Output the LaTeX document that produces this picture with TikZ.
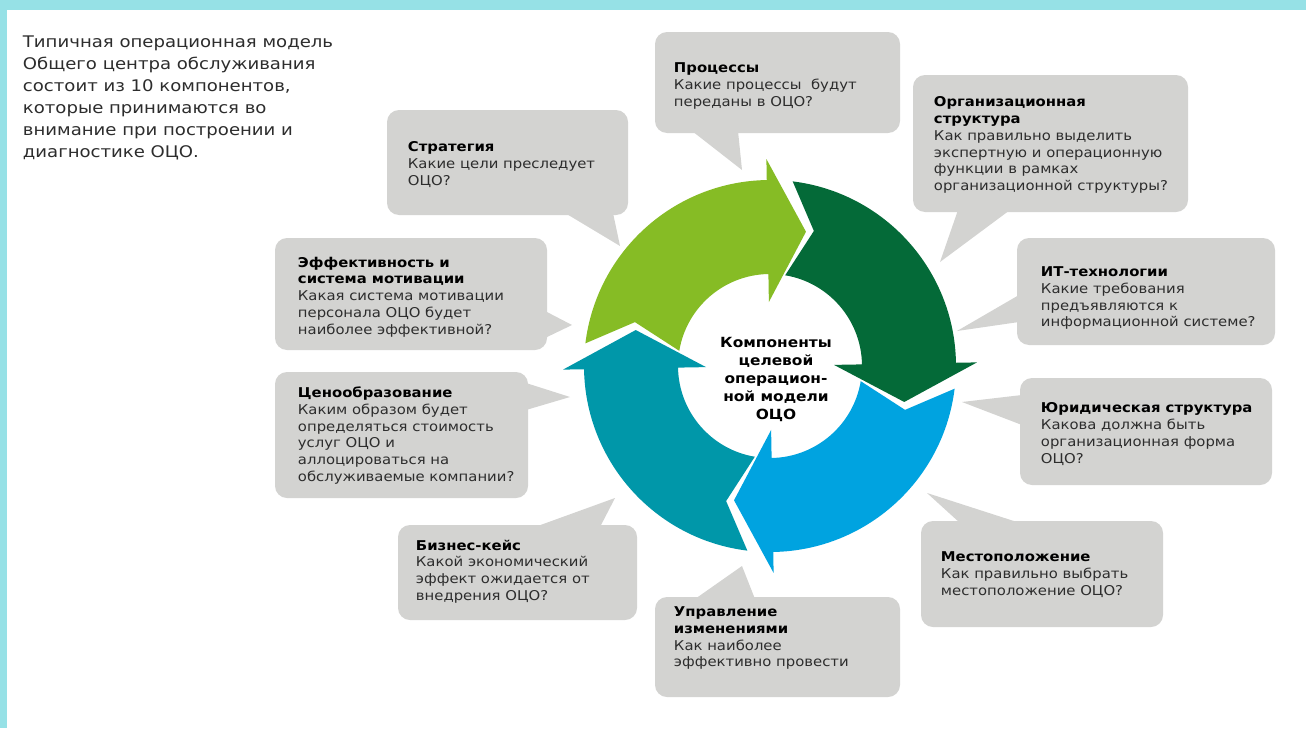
\documentclass[tikz,border=0pt]{standalone}
\usepackage{fontspec}
\setmainfont{DejaVu Sans}[FakeStretch=1.1]
\newfontfamily\introfont{DejaVu Sans}[FakeStretch=1.13]
\usepackage{tikz}

\definecolor{framecyan}{RGB}{150,225,230}
\definecolor{bubblegray}{RGB}{211,211,209}
\definecolor{txtgray}{RGB}{45,45,45}
\definecolor{lgreen}{RGB}{134,188,37}
\definecolor{dgreen}{RGB}{4,106,56}
\definecolor{lblue}{RGB}{0,163,224}
\definecolor{cteal}{RGB}{0,151,169}
\newcommand{\headfont}{\bfseries\color{black}}

\begin{document}
\begin{tikzpicture}[x=1pt,y=1pt,
  bubble/.style={fill=bubblegray,rounded corners=12pt},
  btext/.style={anchor=north west,inner sep=0.75pt,align=left,text=txtgray,
    font=\fontsize{13.5}{16.7}\selectfont}]
\useasboundingbox (0,0) rectangle (1306,-728);
%Frame
\fill[framecyan] (0,0) rectangle (1306,-728);
\fill[white] (7,-10) rectangle (1306,-728);
%Bubbles
\fill[bubble] (387,-110) rectangle (628,-215);
\fill[bubblegray] (565,-213) -- (620,-246) -- (613,-213) -- cycle;
\fill[bubble] (655,-32) rectangle (900,-133);
\fill[bubblegray] (692,-131) -- (742,-170) -- (738,-131) -- cycle;
\fill[bubble] (913,-75) rectangle (1188,-212);
\fill[bubblegray] (958,-210) -- (940,-262) -- (1010,-210) -- cycle;
\fill[bubble] (275,-238) rectangle (547,-350);
\fill[bubblegray] (545,-311) -- (572,-325) -- (545,-338) -- cycle;
\fill[bubble] (1017,-238) rectangle (1275,-345);
\fill[bubblegray] (1019,-295) -- (957,-331) -- (1019,-322) -- cycle;
\fill[bubble] (275,-372) rectangle (528,-498);
\fill[bubblegray] (526,-383) -- (570,-397) -- (526,-410) -- cycle;
\fill[bubble] (1020,-378) rectangle (1272,-485);
\fill[bubblegray] (1022,-395) -- (962,-402) -- (1022,-425) -- cycle;
\fill[bubble] (398,-525) rectangle (637,-620);
\fill[bubblegray] (535,-527) -- (615,-498) -- (600,-527) -- cycle;
\fill[bubble] (655,-597) rectangle (900,-697);
\fill[bubblegray] (695,-599) -- (742,-566) -- (755,-599) -- cycle;
\fill[bubble] (921,-521) rectangle (1163,-627);
\fill[bubblegray] (960,-523) -- (927,-493) -- (1020,-523) -- cycle;
%Cycle arrows
\begin{scope}[shift={(770,-366)}]
\fill[lgreen] (173:186) arc[start angle=173,end angle=91,radius=186] -- (91:207) -- (75:139) -- (91:64) -- (91:92) arc[start angle=91,end angle=170.5,radius=92] -- (162:142) -- cycle;
\fill[dgreen] (83:186) arc[start angle=83,end angle=1,radius=186] -- (1:207) -- (-15:139) -- (1:64) -- (1:92) arc[start angle=1,end angle=80.5,radius=92] -- (72:142) -- cycle;
\fill[lblue] (-7:186) arc[start angle=-7,end angle=-89,radius=186] -- (-89:207) -- (-105:139) -- (-89:64) -- (-89:92) arc[start angle=-89,end angle=-9.5,radius=92] -- (-18:142) -- cycle;
\fill[cteal] (263:186) arc[start angle=263,end angle=181,radius=186] -- (181:207) -- (165:139) -- (181:64) -- (181:92) arc[start angle=181,end angle=260.5,radius=92] -- (252:142) -- cycle;
\end{scope}
%Text
\draw (22,-35) node (intro) [anchor=north west][inner sep=0.75pt][align=left][text=txtgray][font=\introfont\fontsize{16}{22}\selectfont] {Типичная операционная модель\\Общего центра обслуживания\\состоит из 10 компонентов,\\которые принимаются во\\внимание при построении и\\диагностике ОЦО.};
\draw (776,-379) node (core) [inner sep=0.75pt][align=center][font=\fontsize{14}{18}\selectfont\bfseries] {Компоненты\\целевой\\операцион-\\ной модели\\ОЦО};
\draw (407,-141) node (strat) [btext] {{\headfont Стратегия}\\Какие цели преследует\\ОЦО?};
\draw (673,-62) node (proc) [btext] {{\headfont Процессы}\\Какие процессы~ будут\\переданы в ОЦО?};
\draw (933,-96) node (org) [btext] {{\headfont Организационная}\\{\headfont структура}\\Как правильно выделить\\экспертную и операционную\\функции в рамках\\организационной структуры?};
\draw (297,-256) node (eff) [btext] {{\headfont Эффективность и}\\{\headfont система мотивации}\\Какая система мотивации\\персонала ОЦО будет\\наиболее эффективной?};
\draw (1040,-266) node (it) [btext] {{\headfont ИТ-технологии}\\Какие требования\\предъявляются к\\информационной системе?};
\draw (297,-386) node (price) [btext] {{\headfont Ценообразование}\\Каким образом будет\\определяться стоимость\\услуг ОЦО и\\аллоцироваться на\\обслуживаемые компании?};
\draw (1040,-402) node (jur) [btext] {{\headfont Юридическая структура}\\Какова должна быть\\организационная форма\\ОЦО?};
\draw (415,-539) node (biz) [btext] {{\headfont Бизнес-кейс}\\Какой экономический\\эффект ожидается от\\внедрения ОЦО?};
\draw (673,-606) node (chg) [btext] {{\headfont Управление}\\{\headfont изменениями}\\Как наиболее\\эффективно провести};
\draw (940,-551) node (loc) [btext] {{\headfont Местоположение}\\Как правильно выбрать\\местоположение ОЦО?};
\end{tikzpicture}
\end{document}
